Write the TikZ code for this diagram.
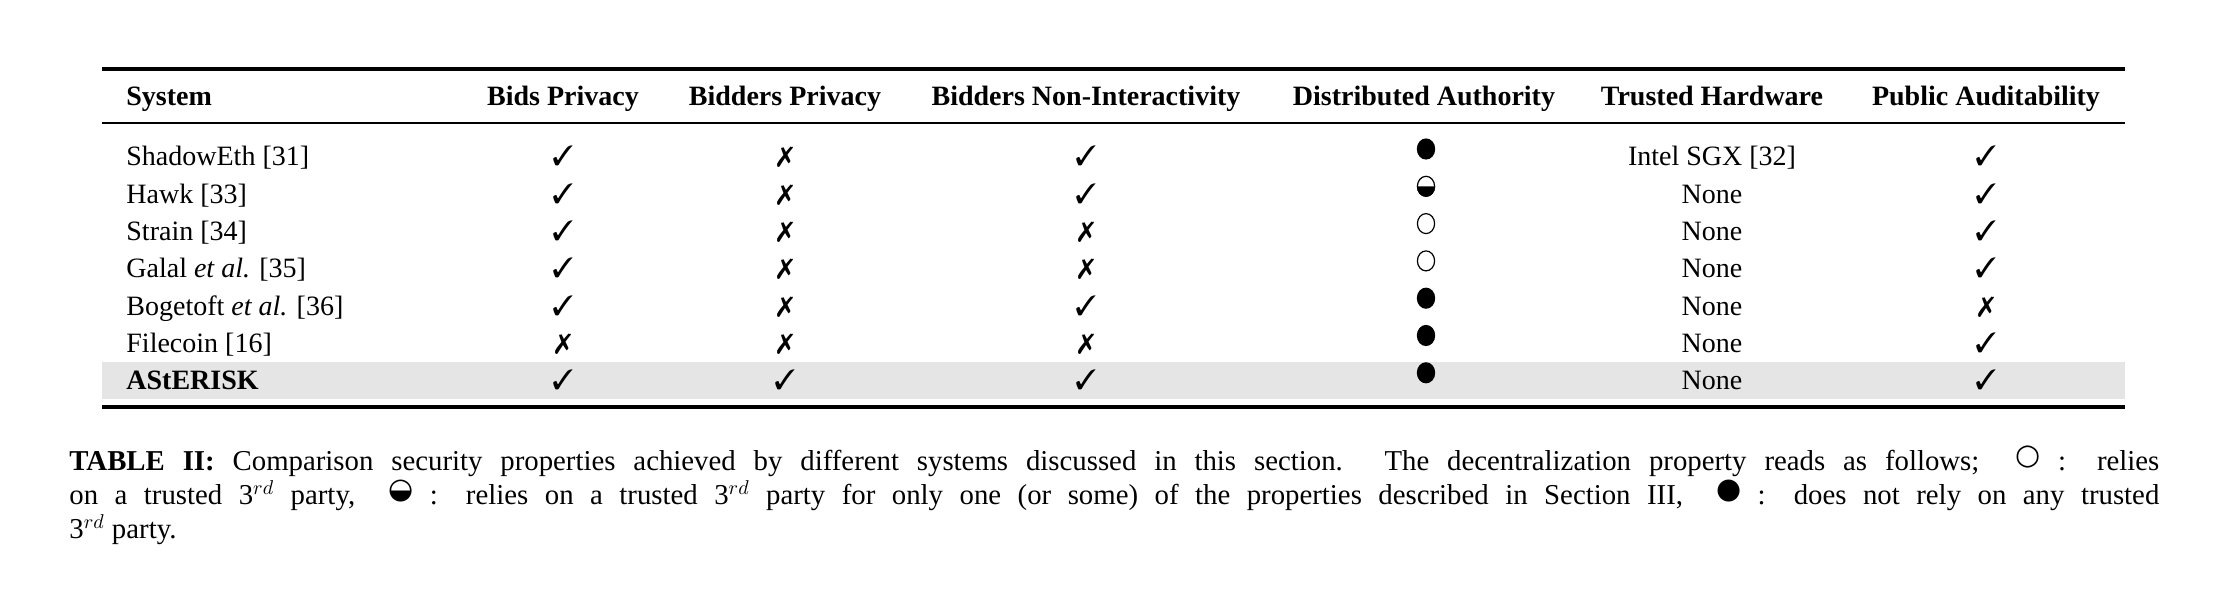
\documentclass[tikz,border=0pt]{standalone}
\usepackage{fontspec}
\setmainfont{Liberation Serif}
\newfontfamily\dejavu{DejaVu Sans}
\usepackage{pifont}
\begin{document}
\begin{tikzpicture}[x=0.5pt,y=-0.5pt,
  every node/.style={inner sep=0pt,font=\fontsize{14}{17}\selectfont},
  cell/.style={anchor=base},
  left cell/.style={anchor=base west},
  head/.style={anchor=base,font=\fontsize{14}{17}\selectfont\bfseries},
  rule/.style={line width=#1},
  dot/.style={draw,line width=0.6pt}]
\useasboundingbox (0,0) rectangle (2218,592);
\fill[black!10] (102,362) rectangle (2125,399);
\draw[rule=1.6pt] (102,69) -- (2125,69);
\draw[rule=0.9pt] (102,123) -- (2125,123);
\draw[rule=1.6pt] (102,407) -- (2125,407);
% header
\node[head,anchor=base west] (h0) at (126,106) {System};
\node[head] (h1) at (563,106) {Bids Privacy};
\node[head] (h2) at (785,106) {Bidders Privacy};
\node[head] (h3) at (1086,106) {Bidders Non-Interactivity};
\node[head] (h4) at (1424,106) {Distributed Authority};
\node[head] (h5) at (1712,106) {Trusted Hardware};
\node[head] (h6) at (1986,106) {Public Auditability};
\def\yes{\ding{51}}
\def\no{\ding{55}}
% rows
\foreach \i/\name/\a/\b/\c/\hw/\p [count=\k] in {
  0/{ShadowEth [31]}/\yes/\no/\yes/{Intel SGX [32]}/\yes,
  1/{Hawk [33]}/\yes/\no/\yes/None/\yes,
  2/{Strain [34]}/\yes/\no/\no/None/\yes,
  3/{Galal \textit{et al.} [35]}/\yes/\no/\no/None/\yes,
  4/{Bogetoft \textit{et al.} [36]}/\yes/\no/\yes/None/\no,
  5/{Filecoin [16]}/\no/\no/\no/None/\yes,
  6/{\textbf{AStERISK}}/\yes/\yes/\yes/None/\yes}{
  \pgfmathsetmacro\yy{166+37.3*\i}
  \node[left cell] (n\k) at (126,\yy) {\name};
  \node[cell] (a\k) at (563,\yy) {\a};
  \node[cell] (b\k) at (785,\yy) {\b};
  \node[cell] (c\k) at (1086,\yy) {\c};
  \node[cell] (t\k) at (1712,\yy) {\hw};
  \node[cell] (p\k) at (1986,\yy) {\p};
}
% distributed authority symbols
\foreach \i in {0,4,5,6}{
  \pgfmathsetmacro\yy{149+37.3*\i}
  \coordinate (d\i) at (1426,\yy);
  \fill (d\i) ellipse [x radius=4.6pt,y radius=5.3pt];
}
\foreach \i in {2,3}{
  \pgfmathsetmacro\yy{149+37.3*\i}
  \coordinate (d\i) at (1426,\yy);
  \draw[dot] (d\i) ellipse [x radius=4.3pt,y radius=5pt];
}
\coordinate (d1) at (1426,186.3);
\fill (d1) ++(-4.6pt,0) arc[start angle=180,end angle=360,x radius=4.6pt,y radius=5.3pt] -- cycle;
\draw[dot] (d1) ellipse [x radius=4.3pt,y radius=5pt];
% caption
\node[anchor=north west,text width=1045pt,align=justify,
  font=\fontsize{14.4}{17}\selectfont] (cap) at (69,446) {\textbf{TABLE II:} Comparison security properties achieved by different systems discussed in this section. The decentralization property reads as follows;~~{\dejavu\raisebox{3pt}{○}}~: relies\linebreak on a trusted 3$^{rd}$ party,~~{\dejavu\raisebox{3pt}{◒}}~: relies on a trusted 3$^{rd}$ party for only one (or some) of the properties described in Section III,~~{\dejavu\raisebox{3pt}{●}}~: does not rely on any trusted\linebreak 3$^{rd}$ party.};
\end{tikzpicture}
\end{document}
